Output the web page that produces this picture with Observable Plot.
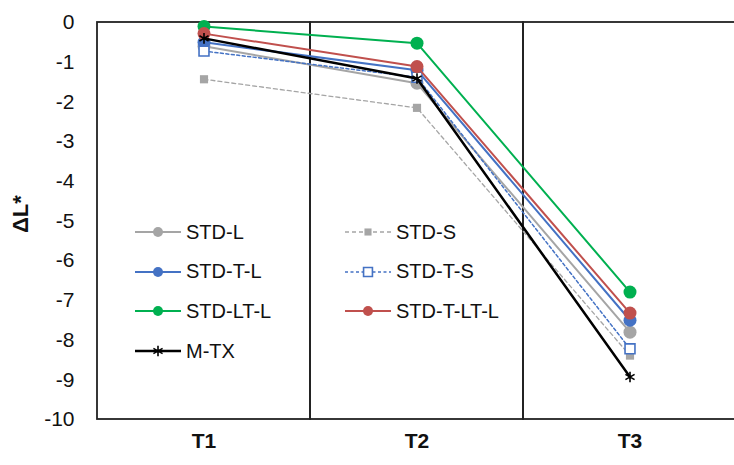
<!DOCTYPE html>
<html><head><meta charset="utf-8">
<script src="https://cdn.jsdelivr.net/npm/d3@7"></script>
<script src="https://cdn.jsdelivr.net/npm/@observablehq/plot@0.6"></script>
<style>
body{margin:0;background:#fff;font-family:"Liberation Sans",Arial,sans-serif;}
#wrap{position:relative;width:734px;height:465px;overflow:hidden;}
.leg{position:absolute;display:flex;align-items:center;font-size:20px;color:#111;height:24px;white-space:nowrap;}
.leg svg{margin-right:5px;overflow:visible}
</style></head><body><div id="wrap"></div>
<script>
const categories = ["T1", "T2", "T3"];
const yTicks = [0, -1, -2, -3, -4, -5, -6, -7, -8, -9, -10];
const seriesNames = ["STD-L", "STD-S", "STD-T-L", "STD-T-S", "STD-LT-L", "STD-T-LT-L", "M-TX"];
const stdL    = [-0.60, -1.53, -7.80];
const stdS    = [-1.43, -2.15, -8.39];
const stdTL   = [-0.50, -1.20, -7.50];
const stdTS   = [-0.72, -1.38, -8.22];
const stdLTL  = [-0.10, -0.52, -6.79];
const stdTLTL = [-0.28, -1.11, -7.32];
const mTX     = [-0.40, -1.41, -8.93];
const seriesValues = [stdL, stdS, stdTL, stdTS, stdLTL, stdTLTL, mTX];

// styles per series
const styles = {
  "STD-L":      {color: "#A5A5A5", width: 2,   dash: null,  symbol: "circle",   fill: "#A5A5A5", r: 6.5, legR: 5},
  "STD-S":      {color: "#A5A5A5", width: 1.3, dash: "4,3", symbol: "square",   fill: "#A5A5A5", r: 4.6, legR: 4},
  "STD-T-L":    {color: "#4472C4", width: 2,   dash: null,  symbol: "circle",   fill: "#4472C4", r: 6.5, legR: 5},
  "STD-T-S":    {color: "#4472C4", width: 1.5, dash: "3,2.5", symbol: "square", fill: "#ffffff", r: 5.6, legR: 5, hollow: true},
  "STD-LT-L":   {color: "#00B050", width: 2,   dash: null,  symbol: "circle",   fill: "#00B050", r: 6.5, legR: 5},
  "STD-T-LT-L": {color: "#C0504D", width: 2,   dash: null,  symbol: "circle",   fill: "#C0504D", r: 6.5, legR: 5},
  "M-TX":       {color: "#000000", width: 2.5, dash: null,  symbol: "asterisk", fill: "none",    r: 5,   legR: 5, star: true}
};

const rows = seriesNames.flatMap((name, i) =>
  categories.map((cat, j) => ({series: name, cat, value: seriesValues[i][j]})));

const marks = [
  Plot.cell(categories, {x: d => d, fill: "none", stroke: "#222", strokeWidth: 1.8})
];
for (const name of seriesNames) {
  const s = styles[name];
  const data = rows.filter(d => d.series === name);
  marks.push(Plot.line(data, {x: "cat", y: "value", stroke: s.color, strokeWidth: s.width,
    strokeDasharray: s.dash || undefined}));
  if (s.star) {
    marks.push(Plot.dot(data, {x: "cat", y: "value", symbol: "asterisk", r: s.r, stroke: s.color, strokeWidth: 1.6, fill: "none"}));
  } else if (s.hollow) {
    marks.push(Plot.dot(data, {x: "cat", y: "value", symbol: "square", r: s.r, stroke: s.color, strokeWidth: 1.6, fill: s.fill}));
  } else {
    marks.push(Plot.dot(data, {x: "cat", y: "value", symbol: s.symbol, r: s.r, fill: s.fill, stroke: "none"}));
  }
}
marks.push(Plot.text(yTicks, {y: d => d, text: d => String(d), frameAnchor: "left", dx: -22, textAnchor: "end", fontSize: 21, fill: "#111"}));
marks.push(Plot.text(categories, {x: d => d, text: d => d, frameAnchor: "bottom", dy: 28, fontSize: 21, fontWeight: "bold", fill: "#111"}));
marks.push(Plot.text(["ΔL*"], {text: d => d, frameAnchor: "left", dx: -76, dy: 12, rotate: -90, fontSize: 22, fontWeight: "bold", fill: "#111"}));

const chart = Plot.plot({
  width: 734, height: 465,
  marginTop: 22, marginBottom: 46, marginLeft: 96, marginRight: 0,
  style: {fontFamily: "'Liberation Sans', Arial, sans-serif", background: "#fff", overflow: "hidden"},
  x: {type: "band", domain: categories, range: [96, 737], padding: 0, axis: null},
  y: {domain: [-10, 0], axis: null},
  marks
});
const wrap = document.getElementById("wrap");
wrap.appendChild(chart);

// legend overlay (two columns, in series order by row)
const legendCols = [135, 345];
const legendRows = [232, 271.5, 311, 351];
seriesNames.forEach((name, i) => {
  const s = styles[name];
  const col = i % 2, row = Math.floor(i / 2);
  const div = document.createElement("div");
  div.className = "leg";
  div.style.left = legendCols[col] + "px";
  div.style.top = (legendRows[row] - 12) + "px";
  const sw = d3.create("svg").attr("width", 46).attr("height", 24);
  sw.append("line").attr("x1", 0).attr("x2", 46).attr("y1", 12).attr("y2", 12)
    .attr("stroke", s.color).attr("stroke-width", s.width)
    .attr("stroke-dasharray", s.dash || null);
  const sym = s.symbol === "circle" ? d3.symbolCircle : s.symbol === "square" ? d3.symbolSquare : d3.symbolAsterisk;
  const p = sw.append("path").attr("transform", "translate(23,12)")
    .attr("d", d3.symbol(sym, Math.PI * s.legR * s.legR)());
  if (s.star) p.attr("fill", "none").attr("stroke", s.color).attr("stroke-width", 1.6);
  else if (s.hollow) p.attr("fill", "#fff").attr("stroke", s.color).attr("stroke-width", 1.6);
  else p.attr("fill", s.fill);
  div.appendChild(sw.node());
  const t = document.createElement("span");
  t.textContent = name;
  div.appendChild(t);
  wrap.appendChild(div);
});
</script>
</body></html>
